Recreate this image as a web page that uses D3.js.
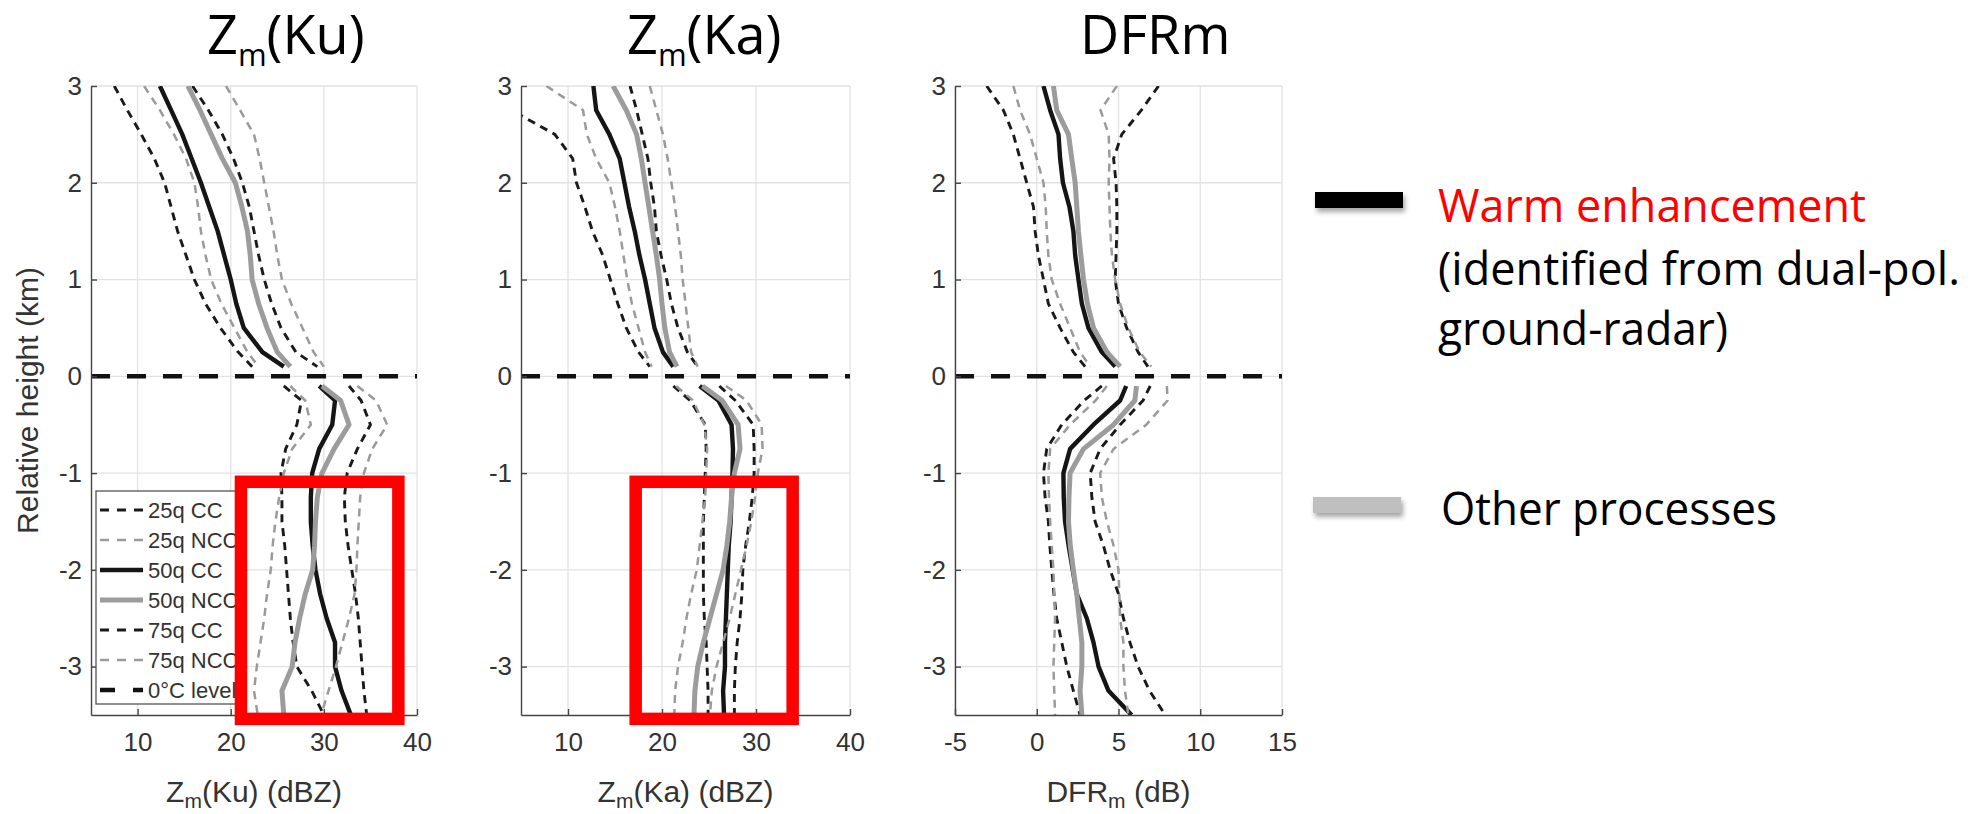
<!DOCTYPE html>
<html>
<head>
<meta charset="utf-8">
<script src="https://cdn.jsdelivr.net/npm/d3@7"></script>
<style>
  body { margin: 0; background: #fff; }
  svg { display: block; }
  .axis text { font-family: "Liberation Sans", Arial, sans-serif; font-size: 26px; fill: #333; }
  .axis path, .axis line { stroke: #444; stroke-width: 1.4; }
</style>
</head>
<body>
<script>
// Heights (km, relative to 0 C level); lines break across the melting level
var heightsAbove = [3, 2.75, 2.5, 2.25, 2, 1.75, 1.5, 1.25, 1, 0.75, 0.5, 0.25, 0.1];
var heightsBelow = [-0.1, -0.25, -0.5, -0.75, -1, -1.25, -1.5, -1.75, -2, -2.25, -2.5, -2.75, -3, -3.25, -3.5];
var yTicks = [-3, -2, -1, 0, 1, 2, 3];

// Zm(Ku) (dBZ)
var ku25cc  = [7.5, 8.9, 10.4, 11.8, 12.9, 13.6, 14.3, 15.2, 16.1, 17.3, 18.9, 20.8, 22.3, 25.7, 27.6, 27.1, 25.9, 25.4, 25.5, 25.5, 25.8, 26.0, 26.2, 26.4, 26.7, 27.1, 28.7, 30.0];
var ku25ncc = [10.7, 12.4, 13.9, 15.2, 16.1, 16.5, 16.8, 17.3, 17.9, 19.0, 20.4, 21.8, 23.0, 26.4, 28.0, 28.6, 26.6, 25.7, 25.2, 24.8, 24.5, 24.3, 23.9, 23.6, 23.2, 22.8, 22.5, 22.9];
var ku50cc  = [12.4, 13.6, 14.8, 15.8, 16.8, 17.7, 18.6, 19.3, 20.0, 20.6, 21.4, 23.4, 25.7, 29.5, 31.2, 30.9, 29.5, 28.75, 28.6, 28.6, 28.8, 29.1, 29.6, 30.3, 31.2, 31.2, 31.9, 32.9];
var ku50ncc = [15.4, 16.7, 17.9, 19.1, 20.5, 21.2, 21.8, 22.1, 22.3, 23.0, 23.9, 25.0, 26.4, 29.8, 31.8, 32.7, 31.1, 29.8, 29.3, 29.1, 29.0, 28.8, 28.0, 27.4, 26.9, 26.6, 25.5, 25.7];
var ku75cc  = [15.9, 17.6, 19.1, 20.3, 21.25, 22.0, 22.5, 23.0, 23.6, 24.4, 25.4, 27.0, 29.3, 32.7, 34.0, 35.0, 33.6, 32.5, 32.2, 32.3, 32.6, 33.0, 33.4, 33.7, 33.9, 34.1, 34.3, 34.6];
var ku75ncc = [19.5, 21.0, 22.5, 23.1, 23.6, 24.1, 24.6, 25.0, 25.5, 26.5, 27.7, 28.9, 30.0, 33.6, 35.6, 36.8, 35.2, 34.3, 33.9, 33.75, 33.6, 33.5, 33.3, 32.7, 32.0, 31.3, 30.5, 29.7];

// Zm(Ka) (dBZ)
var ka25cc  = [1.0, 4.0, 8.6, 10.5, 10.9, 11.8, 12.6, 13.7, 14.5, 15.3, 16.2, 17.5, 18.7, 21.2, 23.0, 24.6, 24.7, 24.6, 24.5, 24.4, 24.4, 24.4, 24.4, 24.5, 24.7, 24.8, 24.9, 24.9];
var ka25ncc = [7.7, 11.6, 12.0, 13.0, 14.4, 15.0, 15.5, 15.9, 16.3, 16.8, 17.5, 18.2, 18.9, 21.5, 23.3, 24.5, 24.8, 24.7, 24.6, 24.3, 24.0, 23.7, 23.1, 22.6, 22.2, 21.7, 21.4, 21.3];
var ka50cc  = [12.7, 13.0, 14.4, 15.5, 16.0, 16.5, 17.1, 17.6, 18.2, 18.7, 19.2, 20.1, 21.2, 24.0, 26.0, 27.4, 27.55, 27.5, 27.4, 27.3, 27.1, 27.0, 26.9, 26.8, 26.7, 26.7, 26.5, 26.6];
var ka50ncc = [14.8, 16.2, 17.3, 17.8, 18.2, 18.6, 19.0, 19.4, 19.75, 20.0, 20.3, 20.8, 21.6, 24.3, 26.4, 28.1, 28.3, 27.7, 27.4, 27.2, 26.9, 26.5, 25.8, 25.1, 24.4, 23.8, 23.5, 23.4];
var ka75cc  = [16.6, 17.3, 17.9, 18.5, 18.8, 19.2, 19.4, 19.9, 20.5, 21.0, 21.7, 22.7, 23.8, 26.1, 27.8, 29.7, 29.8, 29.8, 29.6, 29.3, 28.9, 28.6, 28.5, 28.3, 28.0, 27.8, 27.7, 27.7];
var ka75ncc = [18.7, 19.4, 20.1, 20.6, 21.0, 21.4, 21.7, 22.0, 22.2, 22.5, 22.8, 23.1, 23.8, 26.8, 29.0, 30.6, 30.7, 30.2, 29.9, 29.5, 29.0, 28.4, 27.8, 27.2, 26.5, 25.8, 25.3, 25.1];

// DFRm (dB)
var dfr25cc  = [-3.06, -2.04, -1.43, -1.02, -0.61, -0.2, -0.1, 0.1, 0.41, 0.71, 1.43, 2.24, 2.96, 3.98, 2.9, 1.53, 0.61, 0.41, 0.51, 0.71, 0.8, 0.92, 1.05, 1.22, 1.53, 1.84, 2.24, 2.65];
var dfr25ncc = [-1.43, -1.02, -0.41, 0.0, 0.41, 0.55, 0.61, 0.71, 0.92, 1.43, 2.04, 2.65, 3.27, 4.29, 3.6, 2.04, 0.82, 0.71, 0.75, 0.82, 0.92, 1.02, 1.07, 1.12, 1.07, 1.02, 1.07, 1.12];
var dfr50cc  = [0.41, 0.82, 1.33, 1.43, 1.6, 2.0, 2.24, 2.35, 2.55, 2.76, 3.16, 3.98, 4.8, 5.47, 5.1, 3.47, 2.04, 1.63, 1.65, 1.73, 1.95, 2.2, 2.45, 3.06, 3.47, 3.78, 4.39, 5.8];
var dfr50ncc = [1.02, 1.22, 1.94, 2.14, 2.35, 2.45, 2.55, 2.7, 2.86, 3.1, 3.47, 4.3, 5.1, 6.1, 6.0, 4.7, 2.86, 2.04, 1.97, 1.94, 2.05, 2.24, 2.45, 2.6, 2.76, 2.76, 2.65, 2.76];
var dfr75cc  = [7.45, 6.4, 5.2, 4.7, 4.85, 4.9, 4.9, 4.85, 4.8, 5.0, 5.5, 6.2, 6.8, 6.94, 6.5, 5.1, 3.88, 3.27, 3.37, 3.57, 4.08, 4.49, 5.0, 5.3, 5.7, 6.2, 6.9, 7.86];
var dfr75ncc = [4.9, 3.9, 4.4, 4.45, 4.4, 4.45, 4.5, 4.6, 4.8, 5.1, 5.6, 6.3, 7.0, 7.96, 8.0, 6.7, 4.7, 3.88, 3.98, 4.29, 4.7, 5.0, 5.05, 5.1, 5.3, 5.3, 5.4, 5.6];

// Tick values and highlighted regions (data units: [x0, x1, hTop, hBottom])
var zTicks = [10, 20, 30, 40];
var dfrTicks = [-5, 0, 5, 10, 15];
var kuBox = [21.1, 38.0, -1.09, -3.54];
var kaBox = [17.2, 33.9, -1.09, -3.54];

var seriesKeys = ["q25cc", "q25ncc", "q50cc", "q50ncc", "q75cc", "q75ncc"];
var legendLabels = ["25q CC", "25q NCC", "50q CC", "50q NCC", "75q CC", "75q NCC", "0\u00B0C level"];

var styles = {
    q25cc:  {stroke: "#1a1a1a", width: 2.9, dash: "8,6"},
    q25ncc: {stroke: "#9a9a9a", width: 2.5, dash: "8,6"},
    q50cc:  {stroke: "#151515", width: 4.4, dash: null},
    q50ncc: {stroke: "#9c9c9c", width: 5,   dash: null},
    q75cc:  {stroke: "#1a1a1a", width: 2.9, dash: "8,6"},
    q75ncc: {stroke: "#9a9a9a", width: 2.5, dash: "8,6"},
    zero:   {stroke: "#111",    width: 4.5, dash: "19,17"}
};

var panels = [
    {id: "ku", domain: [5, 40], range: [91, 417], xTicks: zTicks,
     values: {q25cc: ku25cc, q25ncc: ku25ncc, q50cc: ku50cc, q50ncc: ku50ncc, q75cc: ku75cc, q75ncc: ku75ncc},
     xlabel: ["Z", "m", "(Ku) (dBZ)"], title: ["Z", "m", "(Ku)"], titleX: 207, box: kuBox, legend: true, ylabel: true},
    {id: "ka", domain: [5, 40], range: [521, 850], xTicks: zTicks,
     values: {q25cc: ka25cc, q25ncc: ka25ncc, q50cc: ka50cc, q50ncc: ka50ncc, q75cc: ka75cc, q75ncc: ka75ncc},
     xlabel: ["Z", "m", "(Ka) (dBZ)"], title: ["Z", "m", "(Ka)"], titleX: 627, box: kaBox},
    {id: "dfr", domain: [-5, 15], range: [955, 1282], xTicks: dfrTicks,
     values: {q25cc: dfr25cc, q25ncc: dfr25ncc, q50cc: dfr50cc, q50ncc: dfr50ncc, q75cc: dfr75cc, q75ncc: dfr75ncc},
     xlabel: ["DFR", "m", " (dB)"], title: ["DFRm", "", ""], titleX: 1080}
];

var yTop = 86, yBottom = 715;
var yScale = d3.scaleLinear().domain([-3.5, 3]).range([yBottom, yTop]);
var heights = heightsAbove.concat(heightsBelow);
var plainNum = d => String(d);

function toPoints(vals) {
    var pts = [];
    vals.forEach(function (v, i) {
        if (i === heightsAbove.length) pts.push(null);  // gap at melting level
        pts.push({h: heights[i], v: v});
    });
    return pts;
}

// Writes base + subscript + rest as separate text pieces laid end to end
function subscriptText(parent, parts, x0, y, font, size, subSize, shift, fill, anchor) {
    var g = parent.append("g");
    var specs = [[parts[0], size, 0], [parts[1], subSize, shift], [parts[2], size, 0]];
    var nodes = [], total = 0;
    specs.forEach(function (s) {
        if (!s[0]) return;
        var t = g.append("text")
            .attr("y", y + s[2])
            .style("font-family", font)
            .style("font-size", s[1] + "px")
            .style("white-space", "pre")
            .attr("fill", fill)
            .text(s[0]);
        var len = t.node().getComputedTextLength();
        nodes.push([t, len]);
        total += len;
    });
    var cx = anchor === "middle" ? x0 - total / 2 : x0;
    nodes.forEach(function (n) {
        n[0].attr("x", cx);
        cx += n[1];
    });
    return g;
}

var svg = d3.select("body").append("svg")
    .attr("width", 1980)
    .attr("height", 814);

svg.append("rect")
    .attr("width", "100%")
    .attr("height", "100%")
    .attr("fill", "white");

var defs = svg.append("defs");
var shadow = defs.append("filter").attr("id", "shadow")
    .attr("x", "-20%").attr("y", "-50%").attr("width", "140%").attr("height", "250%");
shadow.append("feDropShadow")
    .attr("dx", 2).attr("dy", 4).attr("stdDeviation", 2.5)
    .attr("flood-color", "#000").attr("flood-opacity", 0.35);

panels.forEach(function (p) {
    var x = d3.scaleLinear().domain(p.domain).range(p.range);
    var g = svg.append("g").attr("class", "panel " + p.id);
    var w = p.range[1] - p.range[0];

    defs.append("clipPath").attr("id", "clip-" + p.id)
        .append("rect")
        .attr("x", p.range[0]).attr("y", yTop)
        .attr("width", w).attr("height", yBottom - yTop);

    // Grid
    g.append("g").selectAll("line")
        .data(p.xTicks)
        .enter().append("line")
        .attr("x1", d => x(d)).attr("x2", d => x(d))
        .attr("y1", yTop).attr("y2", yBottom)
        .attr("stroke", "#e2e2e2").attr("stroke-width", 1.3);
    g.append("g").selectAll("line")
        .data(yTicks)
        .enter().append("line")
        .attr("x1", p.range[0]).attr("x2", p.range[1])
        .attr("y1", d => yScale(d)).attr("y2", d => yScale(d))
        .attr("stroke", "#e2e2e2").attr("stroke-width", 1.3);

    // Profiles
    var line = d3.line()
        .defined(d => d !== null)
        .x(d => x(d.v))
        .y(d => yScale(d.h));

    var lines = g.append("g").attr("clip-path", "url(#clip-" + p.id + ")");
    seriesKeys.forEach(function (k) {
        var s = styles[k];
        lines.append("path")
            .datum(toPoints(p.values[k]))
            .attr("d", line)
            .attr("fill", "none")
            .attr("stroke", s.stroke)
            .attr("stroke-width", s.width)
            .attr("stroke-dasharray", s.dash)
            .attr("stroke-linejoin", "round");
    });

    // 0 C level
    g.append("line")
        .attr("x1", p.range[0]).attr("x2", p.range[1])
        .attr("y1", yScale(0)).attr("y2", yScale(0))
        .attr("stroke", styles.zero.stroke)
        .attr("stroke-width", styles.zero.width)
        .attr("stroke-dasharray", styles.zero.dash);

    // Axes (ticks point inward)
    g.append("g")
        .attr("class", "axis")
        .attr("transform", "translate(0," + yBottom + ")")
        .call(d3.axisBottom(x).tickValues(p.xTicks).tickFormat(plainNum)
            .tickSizeInner(-6).tickSizeOuter(0).tickPadding(18));
    g.append("g")
        .attr("class", "axis")
        .attr("transform", "translate(" + p.range[0] + ",0)")
        .call(d3.axisLeft(yScale).tickValues(yTicks).tickFormat(plainNum)
            .tickSizeInner(-6).tickSizeOuter(0).tickPadding(9));

    // X-axis label
    subscriptText(g, p.xlabel, (p.range[0] + p.range[1]) / 2, 802,
        "'Liberation Sans', Arial, sans-serif", 30, 21, 6, "#333", "middle");

    // Panel title
    subscriptText(svg, p.title, p.titleX, 54, "'Open Sans', sans-serif", 54, 31, 12, "#000", "start");

    if (p.ylabel) {
        svg.append("text")
            .attr("transform", "translate(38," + (yTop + yBottom) / 2 + ") rotate(-90)")
            .attr("text-anchor", "middle")
            .style("font-family", "'Liberation Sans', Arial, sans-serif")
            .style("font-size", "30px")
            .attr("fill", "#333")
            .text("Relative height (km)");
    }

    if (p.legend) {
        defs.append("clipPath").attr("id", "clip-legend")
            .append("rect").attr("x", 90).attr("y", 480).attr("width", 150).attr("height", 240);
        var lg = svg.append("g").attr("clip-path", "url(#clip-legend)");
        lg.append("rect")
            .attr("x", 96).attr("y", 491)
            .attr("width", 145).attr("height", 213)
            .attr("fill", "white").attr("stroke", "#555").attr("stroke-width", 1.3);
        var keys = seriesKeys.concat(["zero"]);
        keys.forEach(function (k, i) {
            var s = styles[k];
            var yy = 510 + i * 30;
            lg.append("line")
                .attr("x1", 100).attr("x2", 143)
                .attr("y1", yy).attr("y2", yy)
                .attr("stroke", s.stroke)
                .attr("stroke-width", k === "zero" ? 4.5 : s.width)
                .attr("stroke-dasharray", k === "zero" ? "15,18" : (s.dash ? "9,8" : null));
            lg.append("text")
                .attr("x", 148).attr("y", yy)
                .attr("dy", "0.36em")
                .style("font-family", "'Liberation Sans', Arial, sans-serif")
                .style("font-size", "22px")
                .attr("fill", "#333")
                .text(legendLabels[i]);
        });
    }

    // Highlight box
    if (p.box) {
        svg.append("rect")
            .attr("x", x(p.box[0]))
            .attr("y", yScale(p.box[2]))
            .attr("width", x(p.box[1]) - x(p.box[0]))
            .attr("height", yScale(p.box[3]) - yScale(p.box[2]))
            .attr("fill", "none")
            .attr("stroke", "#ff0000")
            .attr("stroke-width", 12.5);
    }
});

// Right-hand key
var key = svg.append("g").style("font-family", "'Open Sans', sans-serif").style("font-size", "46px");
key.append("rect").attr("x", 1315).attr("y", 192).attr("width", 88).attr("height", 16)
    .attr("fill", "#000").attr("filter", "url(#shadow)");
key.append("rect").attr("x", 1313).attr("y", 497).attr("width", 88).attr("height", 16)
    .attr("fill", "#bfbfbf").attr("filter", "url(#shadow)");
key.append("text").attr("x", 1438).attr("y", 222).attr("fill", "#ff0000")
    .attr("textLength", 428).attr("lengthAdjust", "spacingAndGlyphs").text("Warm enhancement");
key.append("text").attr("x", 1438).attr("y", 285).attr("fill", "#000")
    .attr("textLength", 522).attr("lengthAdjust", "spacingAndGlyphs").text("(identified from dual-pol.");
key.append("text").attr("x", 1438).attr("y", 345).attr("fill", "#000")
    .attr("textLength", 290).attr("lengthAdjust", "spacingAndGlyphs").text("ground-radar)");
key.append("text").attr("x", 1441).attr("y", 525).attr("fill", "#000")
    .attr("textLength", 336).attr("lengthAdjust", "spacingAndGlyphs").text("Other processes");
</script>
</body>
</html>
